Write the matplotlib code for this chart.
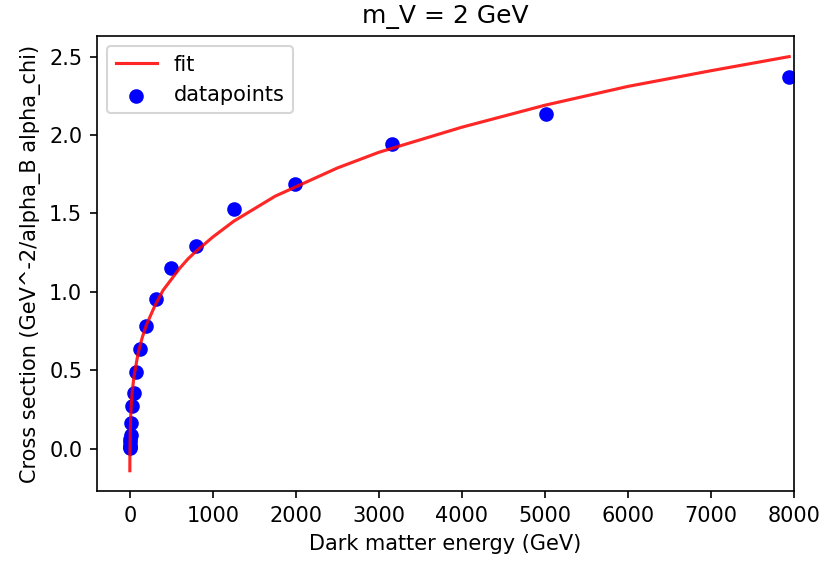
import numpy as np
import matplotlib
matplotlib.use("Agg")
import matplotlib.pyplot as plt

# dark matter energies (GeV) and cross sections
energy = [1.26, 2.0, 3.16, 5.0, 7.94, 12.6, 20.0, 31.6, 50.1, 79.4,
          126, 200, 316, 501, 794, 1259, 1995, 3162, 5012, 7943]
cross_section = [0.005, 0.01, 0.02, 0.04, 0.06, 0.09, 0.166, 0.27, 0.357, 0.49,
                 0.638, 0.784, 0.957, 1.154, 1.29, 1.53, 1.69, 1.94, 2.137, 2.37]

# fit curve, sampled along the red line
fit_energy = [0.2, 1, 5, 10, 20, 30, 50, 100, 150, 200, 300, 400, 500, 600, 700, 800,
              1000, 1250, 1500, 1750, 2000, 2500, 3000, 4000, 5000, 6000, 7000, 7943]
fit_values = [-0.14, -0.04, 0.11, 0.20, 0.30, 0.37, 0.46, 0.61, 0.71, 0.79, 0.91, 1.01,
              1.08, 1.15, 1.21, 1.26, 1.35, 1.45, 1.53, 1.61, 1.67, 1.79, 1.89, 2.05,
              2.19, 2.31, 2.41, 2.50]

plt.figure(figsize=(821 / 150, 561 / 150), dpi=150)
plt.subplots_adjust(left=0.118, right=0.967, top=0.936, bottom=0.124)

plt.plot(fit_energy, fit_values, color='red', alpha=0.85, label='fit')
plt.scatter(energy, cross_section, color='blue', label='datapoints')

plt.xlim(right=8000)
plt.title("m_V = 2 GeV")
plt.xlabel("Dark matter energy (GeV)")
plt.ylabel("Cross section (GeV^-2/alpha_B alpha_chi)")
plt.legend(loc='upper left')

plt.savefig("out.png", dpi=150)
